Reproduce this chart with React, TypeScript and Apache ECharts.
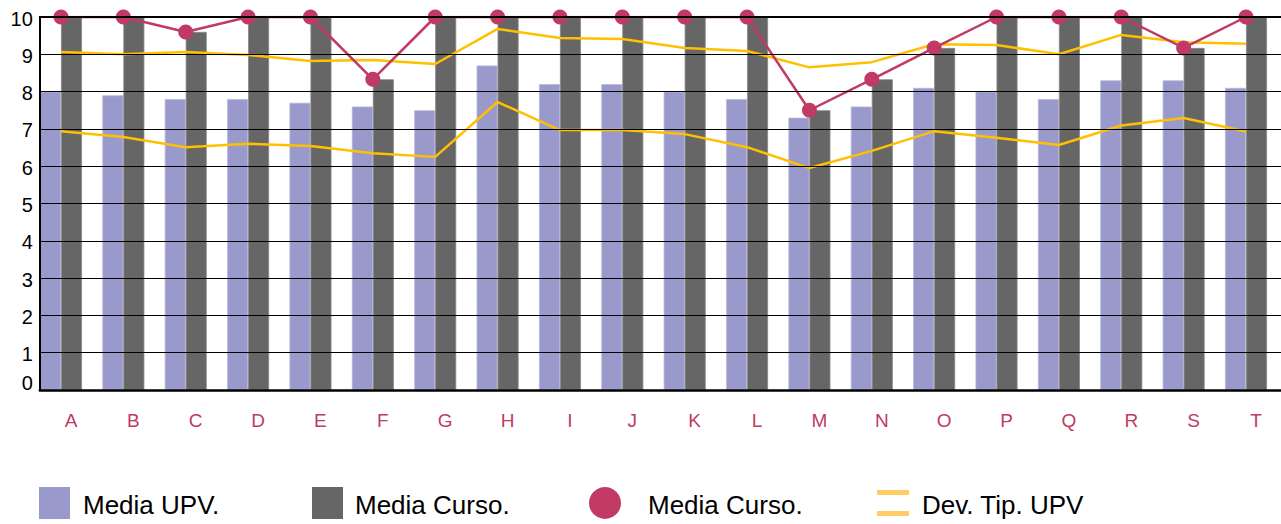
import React, { useEffect, useRef } from "react";
import * as echarts from "echarts";

const categories = ["A", "B", "C", "D", "E", "F", "G", "H", "I", "J", "K", "L", "M", "N", "O", "P", "Q", "R", "S", "T"];
const mediaUPV = [8.0, 7.9, 7.8, 7.8, 7.7, 7.6, 7.5, 8.7, 8.2, 8.2, 8.0, 7.8, 7.3, 7.6, 8.1, 8.0, 7.8, 8.3, 8.3, 8.1];
const mediaCurso = [10, 10, 9.6, 10, 10, 8.33, 10, 10, 10, 10, 10, 10, 7.5, 8.33, 9.17, 10, 10, 10, 9.17, 10];
const devUpper = [9.06, 9.0, 9.06, 8.98, 8.82, 8.85, 8.74, 9.68, 9.44, 9.41, 9.17, 9.09, 8.65, 8.79, 9.27, 9.25, 9.0, 9.52, 9.32, 9.28];
const devLower = [6.94, 6.78, 6.51, 6.6, 6.54, 6.35, 6.25, 7.72, 6.97, 6.97, 6.86, 6.51, 5.95, 6.41, 6.94, 6.76, 6.57, 7.09, 7.29, 6.93];
const yTicks = { min: 0, max: 10, interval: 1 };
const legendLabels = ["Media UPV.", "Media Curso.", "Media Curso.", "Dev. Tip. UPV"];

const FONT = '"Liberation Sans", Arial, sans-serif';
const PURPLE = "#9999cc";
const DARK = "#666666";
const RED = "#c03a64";
const YELLOW = "#ffc000";
const LEG_YELLOW = "#ffcc66";

export default function App() {
  const ref = useRef<HTMLDivElement>(null);
  useEffect(() => {
    if (!ref.current) return;
    const chart = echarts.init(ref.current, undefined, { renderer: "svg" });
    const top = 17;
    const bottom = 134;
    const bandW = 62.37;
    chart.setOption({
      animation: false,
      backgroundColor: "#ffffff",
      textStyle: { fontFamily: FONT },
      grid: [
        { left: 39.8, top, bottom, right: 0 },
        { left: 29.8, top, bottom, width: bandW * 20 },
      ],
      xAxis: [
        {
          type: "category",
          gridIndex: 0,
          data: categories,
          axisLine: { show: true, lineStyle: { color: "#000", width: 2.5 } },
          axisTick: { show: false },
          axisLabel: { show: false },
          splitLine: { show: false },
          z: 10,
        },
        {
          type: "category",
          gridIndex: 1,
          data: categories,
          axisLine: { show: false },
          axisTick: { show: false },
          axisLabel: { color: RED, fontSize: 19, margin: 21, fontFamily: FONT, padding: [0, 0, 0, 20] },
          splitLine: { show: false },
        },
        {
          type: "category",
          gridIndex: 0,
          position: "top",
          data: categories,
          axisLine: { show: true, lineStyle: { color: "#000", width: 2 } },
          axisTick: { show: false },
          axisLabel: { show: false },
          z: 10,
        },
      ],
      yAxis: [
        {
          type: "value",
          gridIndex: 0,
          min: yTicks.min,
          max: yTicks.max,
          interval: yTicks.interval,
          axisLine: { show: true, lineStyle: { color: "#000", width: 2 } },
          axisTick: { show: false },
          axisLabel: {
            color: "#000",
            fontSize: 20,
            margin: 7,
            fontFamily: FONT,
            formatter: (v: number) => (v === 0 ? "{z|0}" : "{n|" + v + "}"),
            rich: {
              z: { fontSize: 20, fontFamily: FONT, color: "#000", padding: [0, 0, 14, 0] },
              n: { fontSize: 20, fontFamily: FONT, color: "#000", padding: [3, 0, 0, 0] },
            },
          },
          splitLine: { show: true, lineStyle: { color: "#000", width: 1 } },
          z: 10,
        },
        {
          type: "value",
          gridIndex: 1,
          min: yTicks.min,
          max: yTicks.max,
          interval: yTicks.interval,
          show: false,
          splitLine: { show: false },
        },
      ],
      series: [
        {
          name: "Media UPV.",
          type: "bar",
          xAxisIndex: 1,
          yAxisIndex: 1,
          data: mediaUPV,
          barWidth: 21,
          barGap: "0%",
          itemStyle: { color: PURPLE, borderColor: "#b8b8dd", borderWidth: 0.8 },
        },
        {
          name: "Media Curso.",
          type: "bar",
          xAxisIndex: 1,
          yAxisIndex: 1,
          data: mediaCurso,
          barWidth: 21,
          barGap: "0%",
          itemStyle: { color: DARK, borderColor: "#888888", borderWidth: 0.8 },
        },
        {
          name: "Dev. Tip. UPV",
          type: "line",
          xAxisIndex: 1,
          yAxisIndex: 1,
          data: devUpper,
          symbol: "none",
          lineStyle: { color: YELLOW, width: 2.5 },
          z: 3,
        },
        {
          name: "Dev. Tip. UPV (-)",
          type: "line",
          xAxisIndex: 1,
          yAxisIndex: 1,
          data: devLower,
          symbol: "none",
          lineStyle: { color: YELLOW, width: 2.5 },
          z: 3,
        },
        {
          name: "Media Curso. (línea)",
          type: "line",
          xAxisIndex: 1,
          yAxisIndex: 1,
          data: mediaCurso,
          symbol: "circle",
          symbolSize: 15,
          itemStyle: { color: RED },
          lineStyle: { color: RED, width: 2.5 },
          z: 4,
        },
      ],
      graphic: [
        { type: "rect", shape: { x: 39, y: 487, width: 31, height: 32 }, style: { fill: PURPLE } },
        { type: "text", x: 83, y: 518, style: { text: legendLabels[0], fontSize: 26, fontFamily: FONT, fill: "#000", verticalAlign: "bottom" } },
        { type: "rect", shape: { x: 312, y: 487, width: 31, height: 32 }, style: { fill: DARK } },
        { type: "text", x: 355, y: 518, style: { text: legendLabels[1], fontSize: 26, fontFamily: FONT, fill: "#000", verticalAlign: "bottom" } },
        { type: "circle", shape: { cx: 605, cy: 503, r: 16 }, style: { fill: RED } },
        { type: "text", x: 648, y: 518, style: { text: legendLabels[2], fontSize: 26, fontFamily: FONT, fill: "#000", verticalAlign: "bottom" } },
        { type: "rect", shape: { x: 877, y: 490, width: 32, height: 5 }, style: { fill: LEG_YELLOW } },
        { type: "rect", shape: { x: 877, y: 511, width: 32, height: 5 }, style: { fill: LEG_YELLOW } },
        { type: "text", x: 922, y: 518, style: { text: legendLabels[3], fontSize: 26, fontFamily: FONT, fill: "#000", verticalAlign: "bottom" } },
      ],
    });
    return () => chart.dispose();
  }, []);
  return <div ref={ref} style={{ position: "absolute", left: 0, top: 0, width: 1281, height: 524 }} />;
}
